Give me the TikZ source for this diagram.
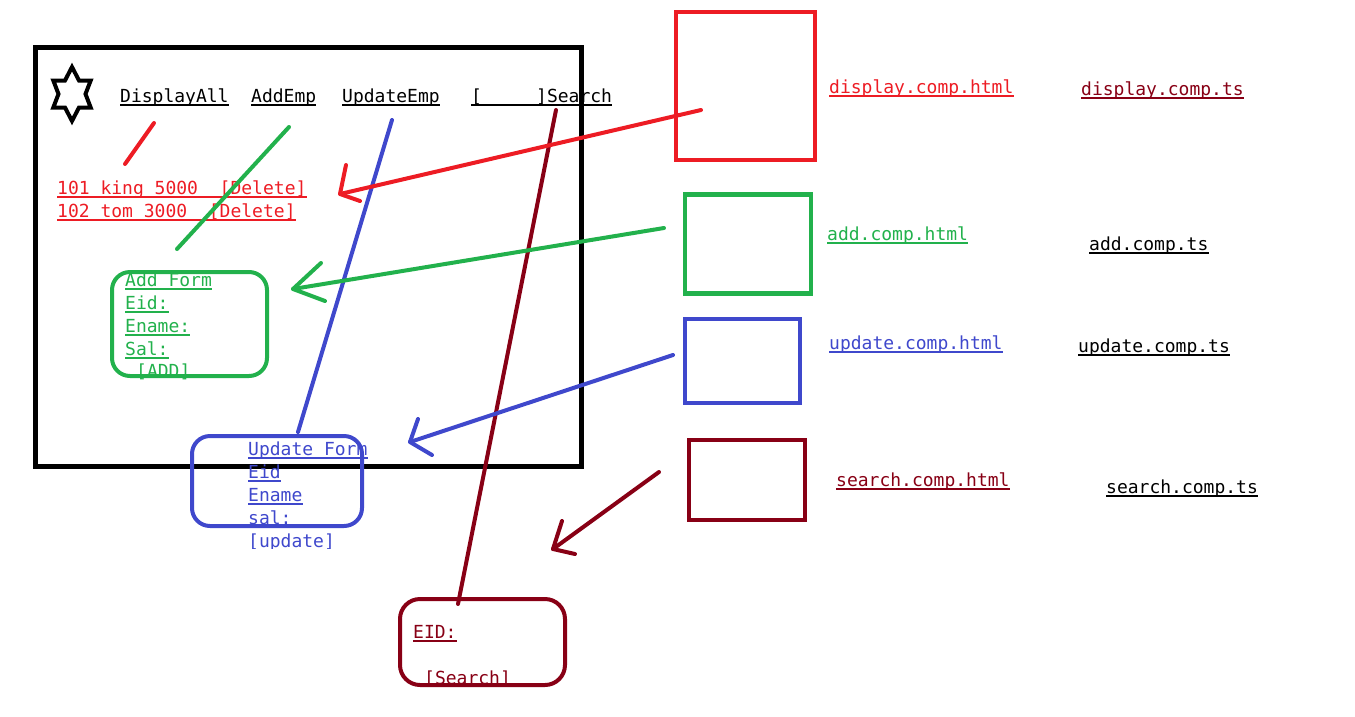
\documentclass[tikz,border=0pt]{standalone}
\usepackage{fontspec}
\newfontfamily\codefont{DejaVu Sans Mono}
\definecolor{pRed}{HTML}{ED1C24}
\definecolor{pGreen}{HTML}{22B14C}
\definecolor{pBlue}{HTML}{3F48CC}
\definecolor{pMaroon}{HTML}{880015}

% underlined label: name, colour, position, text
\newcommand{\ulnode}[4]{%
  \node[txt,text=#2] (#1) at (#3) {#4};
  \draw[#2,line width=1.2pt] ([yshift=-3pt]#1.base west) -- ([yshift=-3pt]#1.base east);}

\begin{document}
\begin{tikzpicture}[x=1pt,y=-1pt,
  txt/.style={font=\codefont\fontsize{18}{18}\selectfont,inner sep=0pt,anchor=base west},
  filebox/.style={draw=#1,line width=4.5pt,inner sep=0pt},
  formbox/.style={draw=#1,line width=4pt,rounded corners=18pt,inner sep=0pt},
  stroke/.style={draw=#1,line width=4pt,line cap=round,line join=round}]
\useasboundingbox (0,0) rectangle (1355,716);

% page frame
\node[draw=black,line width=5pt,minimum width=546pt,minimum height=419pt,inner sep=0pt] (page) at (308.5,257) {};

% logo
\draw[black,line width=4pt,line join=miter]
  (72,67) -- (79,80.5) -- (90.7,80.5) -- (85.5,94) -- (90.7,107.5) -- (79,107.5)
  -- (72,121) -- (65,107.5) -- (53.3,107.5) -- (58.5,94) -- (53.3,80.5) -- (65,80.5) -- cycle;

% menu
\ulnode{mDisp}{black}{120,102}{DisplayAll}
\ulnode{mAdd}{black}{251,102}{AddEmp}
\ulnode{mUpd}{black}{342,102}{UpdateEmp}
\ulnode{mSearch}{black}{471,102}{[\ \ \ \ \ ]Search}

% employee list
\ulnode{row1}{pRed}{57,194}{101 king 5000\ \ [Delete]}
\ulnode{row2}{pRed}{57,217}{102 tom 3000\ \ [Delete]}

% add form
\ulnode{aTitle}{pGreen}{125,286}{Add Form}
\ulnode{aEid}{pGreen}{125,309}{Eid:}
\ulnode{aEname}{pGreen}{125,332}{Ename:}
\ulnode{aSal}{pGreen}{125,355}{Sal:}
\node[txt,text=pGreen] (aBtn) at (136,377) {[ADD]};
\node[formbox=pGreen,minimum width=155pt,minimum height=104pt] (addForm) at (189.5,324) {};

% update form
\ulnode{uTitle}{pBlue}{248,455}{Update Form}
\ulnode{uEid}{pBlue}{248,478}{Eid}
\ulnode{uEname}{pBlue}{248,501}{Ename}
\node[txt,text=pBlue] (uSal) at (248,524) {sal:};
\begin{scope}
  \clip (240,530) rectangle (420,548);
  \node[txt,text=pBlue] (uBtn) at (248,547) {[update]};
\end{scope}
\node[formbox=pBlue,minimum width=170pt,minimum height=90pt] (updForm) at (277,481) {};

% search form
\ulnode{sEid}{pMaroon}{413,638}{EID:}
\node[txt,text=pMaroon] (sBtn) at (424,684) {[Search]};
\node[formbox=pMaroon,minimum width=165pt,minimum height=86pt,rounded corners=20pt] (srchForm) at (482.5,642) {};

% menu links to their views
\coordinate (dA) at (154,123); \coordinate (dB) at (125,164);
\coordinate (aA) at (289,127); \coordinate (aB) at (177,249);
\coordinate (uA) at (392,120); \coordinate (uB) at (298,432);
\coordinate (sA) at (556,110); \coordinate (sB) at (458,604);
\draw[stroke=pRed] (dA) -- (dB);
\draw[stroke=pGreen] (aA) -- (aB);
\draw[stroke=pBlue] (uA) -- (uB);
\draw[stroke=pMaroon] (sA) -- (sB);

% component templates
\node[filebox=pRed,minimum width=139pt,minimum height=148pt] (dispBox) at (745.5,86) {};
\node[filebox=pGreen,minimum width=126pt,minimum height=99pt] (addBox) at (748,244) {};
\node[filebox=pBlue,minimum width=115pt,minimum height=84pt] (updBox) at (742.5,361) {};
\node[filebox=pMaroon,minimum width=116pt,minimum height=80pt] (srchBox) at (747,480) {};

% file names
\ulnode{dHtml}{pRed}{829,93}{display.comp.html}
\ulnode{dTs}{pMaroon}{1081,95}{display.comp.ts}
\ulnode{aHtml}{pGreen}{827,240}{add.comp.html}
\ulnode{aTs}{black}{1089,250}{add.comp.ts}
\ulnode{uHtml}{pBlue}{829,349}{update.comp.html}
\ulnode{uTs}{black}{1078,352}{update.comp.ts}
\ulnode{sHtml}{pMaroon}{836,486}{search.comp.html}
\ulnode{sTs}{black}{1106,493}{search.comp.ts}

% arrows from templates into the page
\coordinate (rS) at (701,110); \coordinate (rT) at (340,194);
\coordinate (rW1) at (346,165); \coordinate (rW2) at (360,201);
\draw[stroke=pRed] (rS) -- (rT);
\draw[stroke=pRed] (rW1) -- (rT) -- (rW2);

\coordinate (gS) at (664,228); \coordinate (gT) at (293,289);
\coordinate (gW1) at (321,263); \coordinate (gW2) at (325,301);
\draw[stroke=pGreen] (gS) -- (gT);
\draw[stroke=pGreen] (gW1) -- (gT) -- (gW2);

\coordinate (bS) at (673,355); \coordinate (bT) at (410,442);
\coordinate (bW1) at (418,419); \coordinate (bW2) at (432,455);
\draw[stroke=pBlue] (bS) -- (bT);
\draw[stroke=pBlue] (bW1) -- (bT) -- (bW2);

\coordinate (mS) at (659,472); \coordinate (mT) at (553,549);
\coordinate (mW1) at (562,521); \coordinate (mW2) at (575,554);
\draw[stroke=pMaroon] (mS) -- (mT);
\draw[stroke=pMaroon] (mW1) -- (mT) -- (mW2);
\end{tikzpicture}
\end{document}
